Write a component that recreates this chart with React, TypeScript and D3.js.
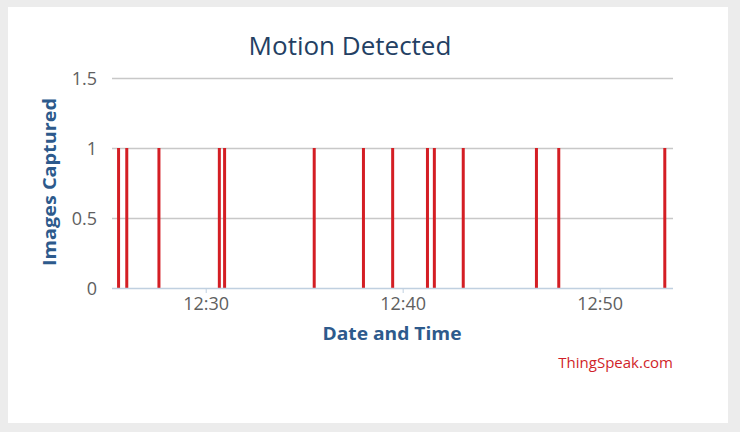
import { useEffect, useRef } from "react";
import * as d3 from "d3";

// times when motion was detected (one image each)
const eventTimes = [
  "12:25:33", "12:25:58", "12:27:36", "12:30:40", "12:30:56", "12:35:29", "12:37:59",
  "12:39:28", "12:41:14", "12:41:35", "12:43:03", "12:46:46", "12:47:54", "12:53:17",
];
const eventValues = [1, 1, 1, 1, 1, 1, 1, 1, 1, 1, 1, 1, 1, 1];
const xRange = ["12:25:13", "12:53:42"];
const xTickTimes = ["12:30:00", "12:40:00", "12:50:00"];
const yTicks = [0, 0.5, 1, 1.5];

const parse = (s: string) => d3.timeParse("%Y-%m-%d %H:%M:%S")("2017-05-10 " + s)!;

export default function App() {
  const svgRef = useRef<SVGSVGElement | null>(null);

  useEffect(() => {
    const width = 740;
    const height = 432;
    const margin = { top: 78, right: 67, bottom: 144, left: 112 };
    const svg = d3.select(svgRef.current).attr("width", width).attr("height", height);
    svg.selectAll("*").remove();

    svg.append("rect").attr("width", width).attr("height", height).attr("fill", "#ececec");
    svg.append("rect").attr("x", 8).attr("y", 7).attr("width", 720).attr("height", 416).attr("fill", "#fff");

    const cw = width - margin.left - margin.right;
    const ch = height - margin.top - margin.bottom;

    const x = d3.scaleTime().domain(xRange.map(parse)).range([0, cw]);
    const y = d3.scaleLinear().domain([0, 1.5]).range([ch, 0]);

    const g = svg.append("g").attr("transform", `translate(${margin.left},${margin.top})`);

    // grid
    g.selectAll("line.grid")
      .data(yTicks.slice(1))
      .join("line")
      .attr("x1", 0)
      .attr("x2", cw)
      .attr("y1", (d) => Math.round(y(d)) + 0.5)
      .attr("y2", (d) => Math.round(y(d)) + 0.5)
      .attr("stroke", "#c8c8c8")
      .attr("stroke-width", 1.5);

    // y labels
    g.selectAll("text.ylab")
      .data(yTicks)
      .join("text")
      .attr("x", -15)
      .attr("y", (d) => y(d) + 7)
      .attr("text-anchor", "end")
      .attr("fill", "#606060")
      .style("font-family", "'Open Sans', sans-serif")
      .style("font-size", "18px")
      .text((d) => d3.format("")(d));

    // bars
    g.selectAll("rect.bar")
      .data(eventTimes)
      .join("rect")
      .attr("x", (d) => x(parse(d)) - 1.5)
      .attr("y", (_, i) => y(eventValues[i]))
      .attr("width", 3)
      .attr("height", (_, i) => ch - y(eventValues[i]))
      .attr("fill", "#d41e24");

    // x axis line
    g.append("line")
      .attr("x1", 0)
      .attr("x2", cw)
      .attr("y1", ch + 0.5)
      .attr("y2", ch + 0.5)
      .attr("stroke", "#c0d0e0")
      .attr("stroke-width", 1.5);

    const xt = xTickTimes.map(parse);
    g.selectAll("line.xtick")
      .data(xt)
      .join("line")
      .attr("x1", (d) => x(d))
      .attr("x2", (d) => x(d))
      .attr("y1", ch)
      .attr("y2", ch + 5)
      .attr("stroke", "#c0d0e0");

    g.selectAll("text.xlab")
      .data(xt)
      .join("text")
      .attr("x", (d) => x(d))
      .attr("y", ch + 22)
      .attr("text-anchor", "middle")
      .attr("fill", "#606060")
      .style("font-family", "'Open Sans', sans-serif")
      .style("font-size", "18px")
      .text((d) => d3.timeFormat("%H:%M")(d));

    // titles
    svg.append("text")
      .attr("x", 350)
      .attr("y", 55)
      .attr("text-anchor", "middle")
      .attr("fill", "#243f63")
      .style("font-family", "'Open Sans', sans-serif")
      .style("font-size", "26px")
      .text("Motion Detected");

    svg.append("text")
      .attr("transform", `translate(56,182) rotate(-90)`)
      .attr("text-anchor", "middle")
      .attr("textLength", 168)
      .attr("lengthAdjust", "spacingAndGlyphs")
      .attr("fill", "#2d5a8c")
      .style("font-family", "'Open Sans', sans-serif")
      .style("font-size", "18px")
      .style("font-weight", "bold")
      .text("Images Captured");

    svg.append("text")
      .attr("x", 392)
      .attr("y", 340)
      .attr("text-anchor", "middle")
      .attr("textLength", 139)
      .attr("lengthAdjust", "spacingAndGlyphs")
      .attr("fill", "#2d5a8c")
      .style("font-family", "'Open Sans', sans-serif")
      .style("font-size", "18px")
      .style("font-weight", "bold")
      .text("Date and Time");

    svg.append("text")
      .attr("x", 673)
      .attr("y", 368)
      .attr("text-anchor", "end")
      .attr("fill", "#d01f2a")
      .style("font-family", "'Open Sans', sans-serif")
      .style("font-size", "15px")
      .text("ThingSpeak.com");
  }, []);

  return <svg ref={svgRef} style={{ position: "absolute", left: 0, top: 0 }}></svg>;
}
